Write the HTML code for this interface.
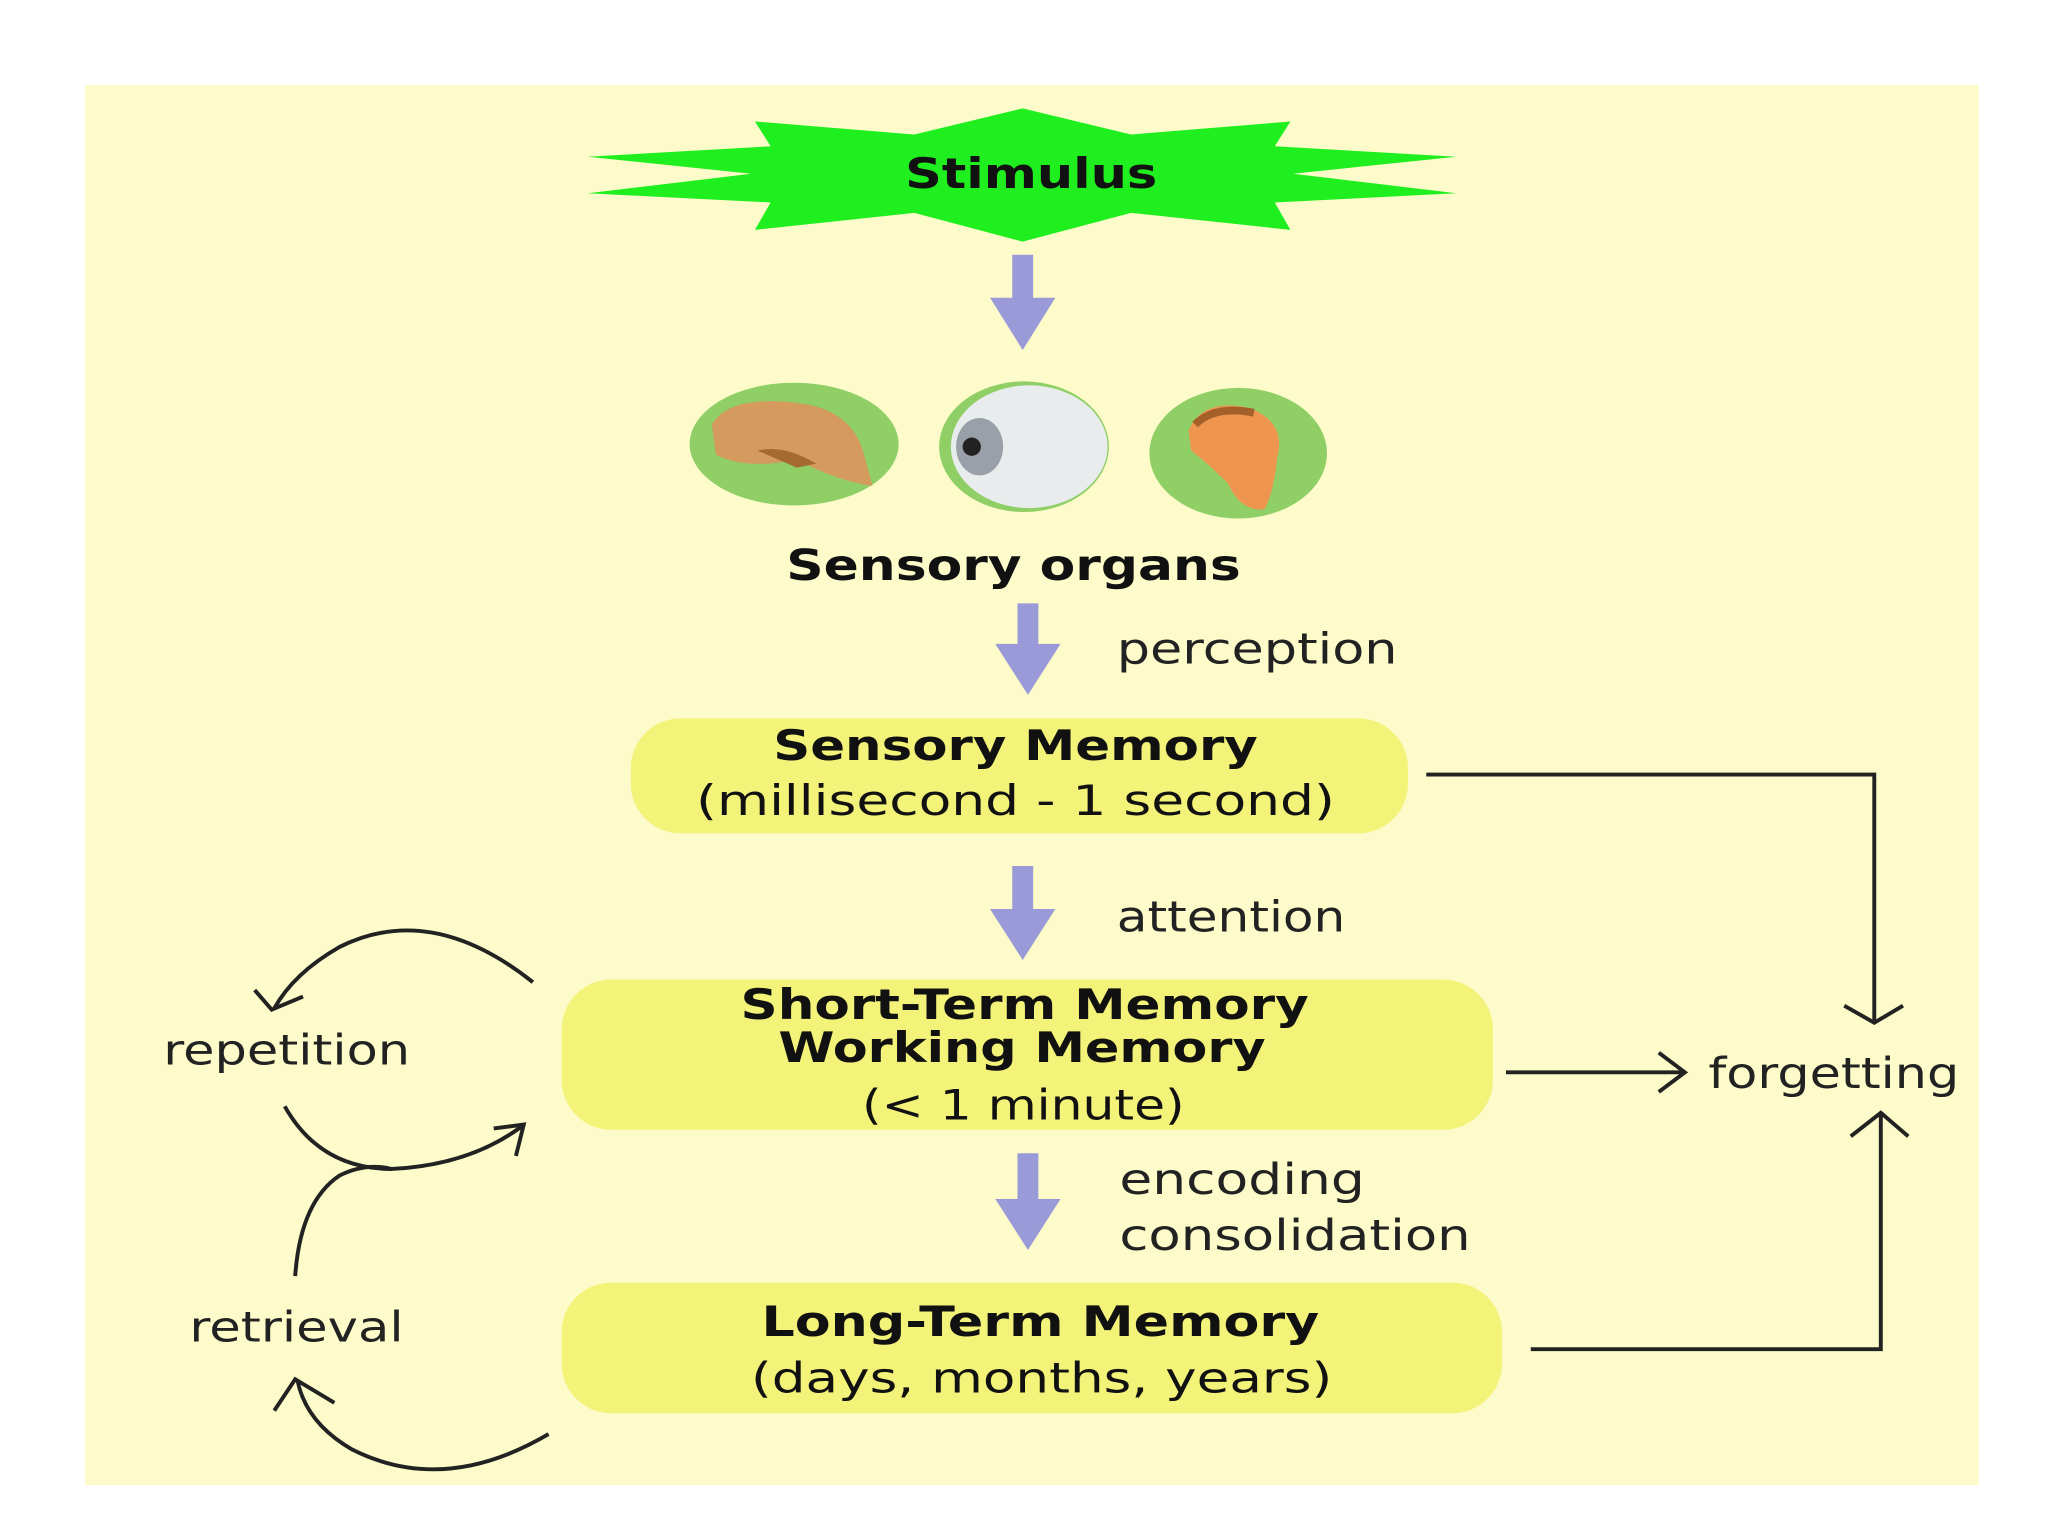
<!DOCTYPE html>
<html><head><style>html,body{margin:0;padding:0;background:#fff}svg{display:block}</style></head>
<body>
<svg width="2048" height="1536" viewBox="0 0 1568 1176" xmlns="http://www.w3.org/2000/svg" font-family="DejaVu Sans, Liberation Sans, sans-serif">
<rect x="0" y="0" width="1568" height="1176" fill="#ffffff"/>
<rect x="65" y="65" width="1450" height="1072" fill="#fdfbca"/>
<polygon fill="#1fef1f" points="450,120 590,112 578,93 700,103 783,83 866,103 988,93 976,112 1115,120 990,133 1115,148 976,155 988,176 866,163 783,185 700,163 578,176 590,155 450,148 575,133"/>
<g lengthAdjust="spacingAndGlyphs">
<text x="693" y="144" textLength="193" lengthAdjust="spacingAndGlyphs" font-size="32" font-weight="bold" fill="#111">Stimulus</text>
</g>
<g fill="#9a9ad8">
<polygon points="775,195 791,195 791,228 808,228 783,268 758,228 775,228"/>
<polygon points="779,462 795,462 795,493 812,493 787,532 762,493 779,493"/>
<polygon points="775,663 791,663 791,696 808,696 783,735 758,696 775,696"/>
<polygon points="779,883 795,883 795,918 812,918 787,957 762,918 779,918"/>
</g>
<ellipse cx="608" cy="340" rx="80" ry="47" fill="#8fcf66"/>
<path d="M545,325 Q560,300 620,310 Q655,318 662,350 L668,372 Q640,368 610,352 Q570,360 548,348 Z" fill="#d49a5e"/>
<path d="M580,345 Q600,340 625,355 L610,358 Z" fill="#a56a30"/>
<ellipse cx="784" cy="342" rx="65" ry="50" fill="#8fcf66"/>
<ellipse cx="788" cy="342" rx="60" ry="47" fill="#e8ecec"/>
<ellipse cx="750" cy="342" rx="18" ry="22" fill="#9aa0a8"/>
<circle cx="744" cy="342" r="7" fill="#222"/>
<ellipse cx="948" cy="347" rx="68" ry="50" fill="#8fcf66"/>
<path d="M910,330 Q920,305 955,312 Q985,322 978,350 Q975,378 968,390 Q950,392 940,370 Q925,355 912,345 Z" fill="#ee9650"/>
<path d="M915,325 Q930,310 960,316" stroke="#a5602a" stroke-width="6" fill="none"/>
<text x="602" y="444" textLength="348" lengthAdjust="spacingAndGlyphs" font-size="33" font-weight="bold" fill="#111">Sensory organs</text>
<text x="855" y="508" textLength="215" lengthAdjust="spacingAndGlyphs" font-size="33" fill="#222">perception</text>
<rect x="483" y="550" width="595" height="88" rx="38" fill="#f3f37a"/>
<text x="592" y="582" textLength="371" lengthAdjust="spacingAndGlyphs" font-size="32" font-weight="bold" fill="#111">Sensory Memory</text>
<text x="533" y="624" textLength="489" lengthAdjust="spacingAndGlyphs" font-size="32" fill="#111">(millisecond - 1 second)</text>
<text x="855" y="713" textLength="175" lengthAdjust="spacingAndGlyphs" font-size="33" fill="#222">attention</text>
<rect x="430" y="750" width="713" height="115" rx="38" fill="#f3f37a"/>
<text x="567" y="780" textLength="435" lengthAdjust="spacingAndGlyphs" font-size="32" font-weight="bold" fill="#111">Short-Term Memory</text>
<text x="596" y="813" textLength="373" lengthAdjust="spacingAndGlyphs" font-size="32" font-weight="bold" fill="#111">Working Memory</text>
<text x="660" y="857" textLength="247" lengthAdjust="spacingAndGlyphs" font-size="32" fill="#111">(&lt; 1 minute)</text>
<text x="857" y="914" textLength="188" lengthAdjust="spacingAndGlyphs" font-size="33" fill="#222">encoding</text>
<text x="857" y="957" textLength="269" lengthAdjust="spacingAndGlyphs" font-size="33" fill="#222">consolidation</text>
<rect x="430" y="982" width="720" height="100" rx="38" fill="#f3f37a"/>
<text x="583" y="1023" textLength="427" lengthAdjust="spacingAndGlyphs" font-size="32" font-weight="bold" fill="#111">Long-Term Memory</text>
<text x="575" y="1066" textLength="445" lengthAdjust="spacingAndGlyphs" font-size="32" fill="#111">(days, months, years)</text>
<g stroke="#222" stroke-width="3" fill="none">
<polyline points="1092,593 1435,593 1435,782"/>
<polyline points="1412,770 1435,783 1457,770"/>
<line x1="1153" y1="821" x2="1290" y2="821"/>
<polyline points="1270,806 1290,821 1270,836"/>
<polyline points="1172,1033 1440,1033 1440,852"/>
<polyline points="1417,870 1440,852 1461,870"/>
<path d="M408,752 Q330,690 260,725 Q225,745 210,772"/>
<polyline points="195,758 208,773 232,763"/>
<path d="M218,847 Q245,895 300,895 Q360,892 400,862"/>
<polyline points="378,864 401,861 395,885"/>
<path d="M226,977 Q230,920 260,900 Q280,890 300,895"/>
<path d="M420,1098 Q340,1145 270,1110 Q235,1090 228,1058"/>
<polyline points="210,1080 226,1056 256,1074"/>
</g>
<text x="125" y="815" textLength="189" lengthAdjust="spacingAndGlyphs" font-size="32" fill="#222">repetition</text>
<text x="145" y="1027" textLength="164" lengthAdjust="spacingAndGlyphs" font-size="32" fill="#222">retrieval</text>
<text x="1308" y="833" textLength="192" lengthAdjust="spacingAndGlyphs" font-size="33" fill="#222">forgetting</text>
</svg>
</body></html>
